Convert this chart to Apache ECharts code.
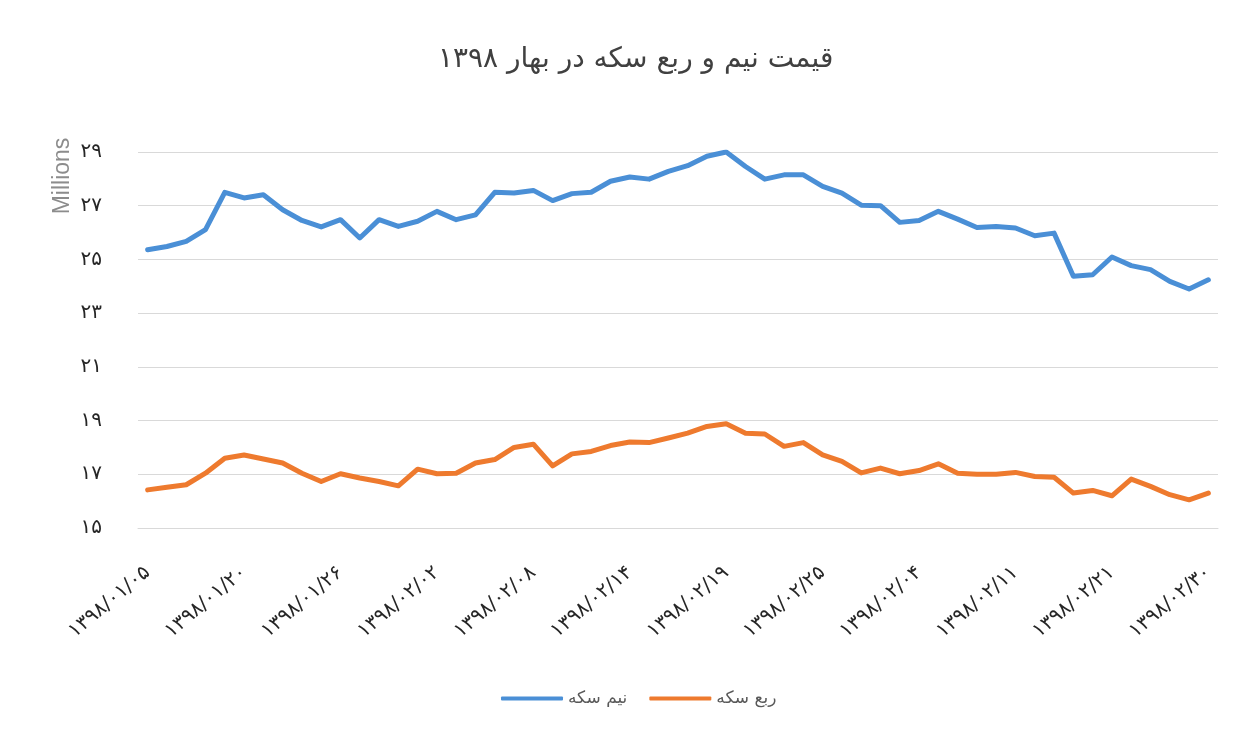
<!DOCTYPE html>
<html>
<head>
<meta charset="utf-8">
<title>قیمت نیم و ربع سکه</title>
<script src="https://cdn.jsdelivr.net/npm/echarts@6/dist/echarts.min.js"></script>
<style>
  html, body { margin: 0; padding: 0; background: #fff; }
  #chart { width: 1244px; height: 734px; }
</style>
</head>
<body>
<div id="chart"></div>
<script>
var dates = [
  '1398/01/05', '1398/01/06', '1398/01/07', '1398/01/17', '1398/01/18',
  '1398/01/20', '1398/01/21', '1398/01/22', '1398/01/24', '1398/01/25',
  '1398/01/26', '1398/01/27', '1398/01/28', '1398/01/31', '1398/02/01',
  '1398/02/02', '1398/02/03', '1398/02/04', '1398/02/05', '1398/02/07',
  '1398/02/08', '1398/02/09', '1398/02/10', '1398/02/11', '1398/02/12',
  '1398/02/14', '1398/02/15', '1398/02/16', '1398/02/17', '1398/02/18',
  '1398/02/19', '1398/02/21', '1398/02/22', '1398/02/23', '1398/02/24',
  '1398/02/25', '1398/02/28', '1398/02/29', '1398/02/31', '1398/03/01',
  '1398/03/04', '1398/03/06', '1398/03/07', '1398/03/08', '1398/03/09',
  '1398/03/11', '1398/03/12', '1398/03/13', '1398/03/19', '1398/03/20',
  '1398/03/21', '1398/03/22', '1398/03/25', '1398/03/26', '1398/03/27',
  '1398/03/30'
];

// labels as printed on the original chart, one every 5 categories
var tickLabels = [
  '۱۳۹۸/۰۱/۰۵', '۱۳۹۸/۰۱/۲۰', '۱۳۹۸/۰۱/۲۶', '۱۳۹۸/۰۲/۰۲',
  '۱۳۹۸/۰۲/۰۸', '۱۳۹۸/۰۲/۱۴', '۱۳۹۸/۰۲/۱۹', '۱۳۹۸/۰۲/۲۵',
  '۱۳۹۸/۰۲/۰۴', '۱۳۹۸/۰۲/۱۱', '۱۳۹۸/۰۲/۲۱', '۱۳۹۸/۰۲/۳۰'
];

// millions of rials
var nimSekke = [
  25.36, 25.48, 25.67, 26.11, 27.50, 27.29, 27.41, 26.85, 26.45, 26.21,
  26.48, 25.80, 26.48, 26.23, 26.42, 26.79, 26.48, 26.66, 27.50, 27.47,
  27.57, 27.19, 27.45, 27.50, 27.91, 28.07, 27.99, 28.28, 28.49, 28.84,
  29.00, 28.46, 27.99, 28.15, 28.15, 27.72, 27.47, 27.02, 27.00, 26.38,
  26.45, 26.79, 26.50, 26.19, 26.23, 26.17, 25.88, 25.98, 24.37, 24.43,
  25.09, 24.77, 24.62, 24.18, 23.90, 24.24
];

var robSekke = [
  16.42, 16.52, 16.61, 17.04, 17.60, 17.72, 17.57, 17.42, 17.04, 16.73,
  17.02, 16.86, 16.73, 16.57, 17.19, 17.02, 17.04, 17.42, 17.55, 18.00,
  18.12, 17.31, 17.76, 17.85, 18.07, 18.20, 18.18, 18.35, 18.53, 18.78,
  18.88, 18.53, 18.50, 18.04, 18.18, 17.72, 17.48, 17.05, 17.23, 17.02,
  17.14, 17.39, 17.04, 17.00, 17.00, 17.07, 16.92, 16.89, 16.30, 16.40,
  16.20, 16.82, 16.55, 16.24, 16.05, 16.30
];

var seriesNames = ['نیم سکه', 'ربع سکه'];
var yTicks = [15, 17, 19, 21, 23, 25, 27, 29];

function toFa(s) {
  return String(s).replace(/\d/g, function (d) { return '۰۱۲۳۴۵۶۷۸۹'[d]; });
}

var font = '"DejaVu Sans", sans-serif';
var chart = echarts.init(document.getElementById('chart'));
chart.setOption({
  backgroundColor: '#fff',
  animation: false,
  title: {
    text: 'قیمت نیم و ربع سکه در بهار ۱۳۹۸',
    left: 438,
    top: 46,
    padding: 0,
    textStyle: { fontFamily: font, fontSize: 28, fontWeight: 'normal', color: '#404040' }
  },
  graphic: [{
    type: 'text',
    x: 63,
    y: 176,
    rotation: Math.PI / 2,
    style: {
      text: 'Millions',
      font: '23px "Liberation Sans", sans-serif',
      fill: '#8c8c8c',
      align: 'center',
      verticalAlign: 'middle'
    }
  }],
  legend: {
    bottom: 22,
    left: 496,
    itemWidth: 62,
    itemHeight: 4,
    itemGap: 22,
    icon: 'roundRect',
    textStyle: { fontFamily: font, fontSize: 17, color: '#595959' },
    data: seriesNames
  },
  grid: { left: 138, right: 26, top: 152, bottom: 206 },
  xAxis: {
    type: 'category',
    data: dates,
    boundaryGap: true,
    axisLine: { lineStyle: { color: '#d9d9d9' } },
    axisTick: { show: false },
    axisLabel: {
      interval: 4,
      rotate: 40,
      margin: 42,
      fontFamily: font,
      fontSize: 20,
      color: '#262626',
      formatter: function (v, i) { return tickLabels[Math.round(i / 5)] || toFa(v); }
    }
  },
  yAxis: {
    type: 'value',
    min: 15,
    max: 29,
    interval: 1,
    axisLine: { show: false },
    axisTick: { show: false },
    axisLabel: {
      margin: 36,
      fontFamily: font,
      fontSize: 20,
      color: '#262626',
      formatter: function (v) { return yTicks.indexOf(v) >= 0 ? toFa(v) : ''; }
    },
    splitLine: { lineStyle: { color: ['#d9d9d9', 'rgba(0,0,0,0)'], width: 1 } }
  },
  series: [
    {
      name: seriesNames[0],
      type: 'line',
      data: nimSekke,
      showSymbol: false,
      lineStyle: { color: '#4a8fd6', width: 5, cap: 'round', join: 'round' },
      itemStyle: { color: '#4a8fd6' }
    },
    {
      name: seriesNames[1],
      type: 'line',
      data: robSekke,
      showSymbol: false,
      lineStyle: { color: '#ee7a2e', width: 5, cap: 'round', join: 'round' },
      itemStyle: { color: '#ee7a2e' }
    }
  ]
});
</script>
</body>
</html>
